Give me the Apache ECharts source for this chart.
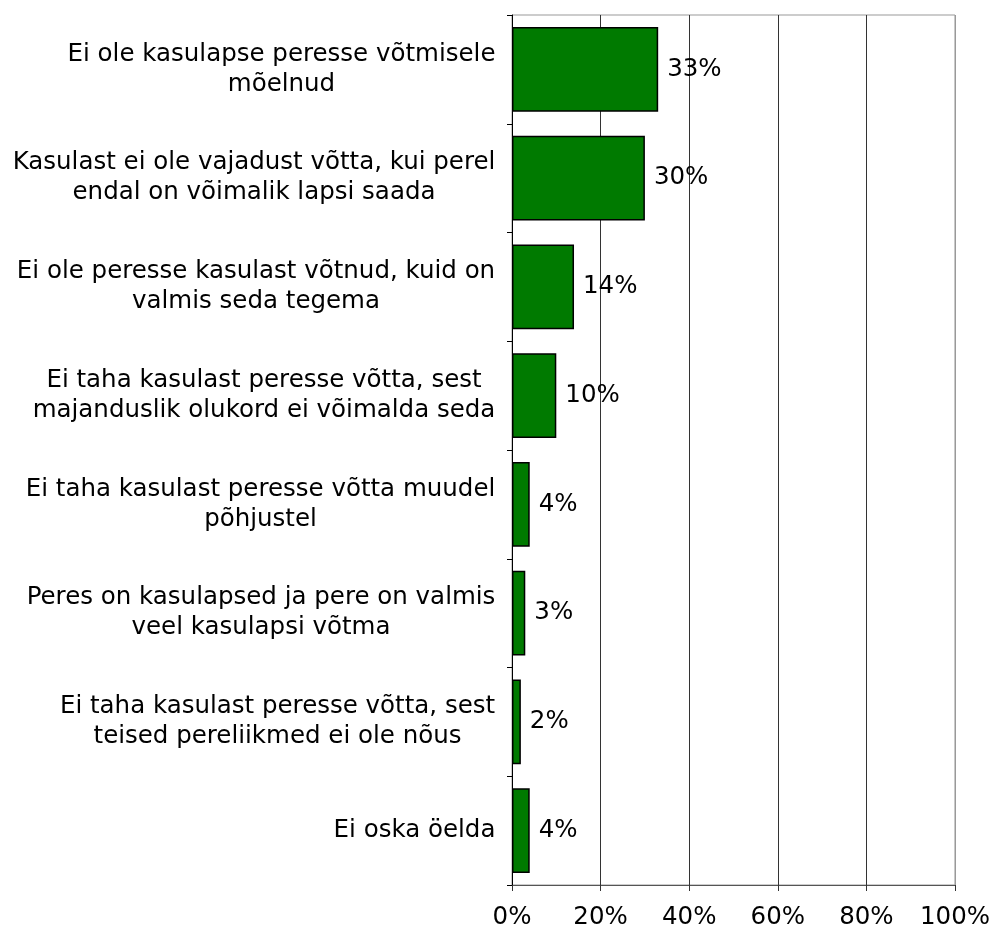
<!DOCTYPE html>
<html>
<head>
<meta charset="utf-8">
<style>
  html, body { margin: 0; padding: 0; background: #fff; }
  #myChart { width: 993px; height: 930px; }
</style>
<script src="https://cdn.jsdelivr.net/npm/echarts@6/dist/echarts.min.js"></script>
</head>
<body>
<div id="myChart"></div>
<script>
// answers (top to bottom), two lines where the original wraps
const categories = [
  "Ei ole kasulapse peresse võtmisele\nmõelnud",
  "Kasulast ei ole vajadust võtta, kui perel\nendal on võimalik lapsi saada",
  "Ei ole peresse kasulast võtnud, kuid on\nvalmis seda tegema",
  "Ei taha kasulast peresse võtta, sest\nmajanduslik olukord ei võimalda seda",
  "Ei taha kasulast peresse võtta muudel\npõhjustel",
  "Peres on kasulapsed ja pere on valmis\nveel kasulapsi võtma",
  "Ei taha kasulast peresse võtta, sest\nteised pereliikmed ei ole nõus",
  "Ei oska öelda"
];
const values = [33, 30, 14, 10, 4, 3, 2, 4];
const xMin = 0;
const xMax = 100;
const xStep = 20;

const font = "DejaVu Sans";
const fontSize = 24.5;

// each label is centred on its own widest line, like the original
const ctx = document.createElement("canvas").getContext("2d");
ctx.font = fontSize + "px '" + font + "'";
const rich = {};
categories.forEach((c, i) => {
  let w = 0;
  c.split("\n").forEach(line => {
    w = Math.max(w, ctx.measureText(line).width);
  });
  rich["c" + i] = {
    width: Math.ceil(w) + 1,
    align: "center",
    fontSize: fontSize,
    fontFamily: font,
    lineHeight: 30,
    color: "#000"
  };
});

const myChart = echarts.init(document.getElementById("myChart"));

const option = {
  animation: false,
  textStyle: { fontFamily: font },
  grid: {
    left: 512,
    right: 37,
    top: 15,
    bottom: 45,
    show: true,
    borderColor: "#999",
    borderWidth: 1
  },
  xAxis: {
    type: "value",
    min: xMin,
    max: xMax,
    interval: xStep,
    axisLine: { show: true, lineStyle: { color: "#555", width: 1 } },
    axisTick: { show: true, length: 6, lineStyle: { color: "#333" } },
    axisLabel: {
      formatter: "{value}%",
      fontSize: fontSize,
      color: "#000",
      margin: 20
    },
    splitLine: {
      show: true,
      lineStyle: { color: ["#000", "#333", "#333", "#333", "#333", "#999"], width: 1 }
    }
  },
  yAxis: {
    type: "category",
    inverse: true,
    data: categories,
    axisLine: { show: true, lineStyle: { color: "#000", width: 1 } },
    axisTick: { show: true, length: 5, lineStyle: { color: "#000" } },
    axisLabel: {
      interval: 0,
      margin: 16,
      align: "right",
      formatter: function(value, index) {
        return value.split("\n").map(l => "{c" + index + "|" + l + "}").join("\n");
      },
      rich: rich
    }
  },
  series: [{
    type: "bar",
    data: values,
    barCategoryGap: "22%",
    itemStyle: {
      color: "#007a00",
      borderColor: "#000",
      borderWidth: 1.5
    },
    label: {
      show: true,
      position: "right",
      distance: 9,
      formatter: "{c}%",
      fontSize: fontSize,
      fontFamily: font,
      color: "#000"
    }
  }]
};

myChart.setOption(option);
</script>
</body>
</html>
